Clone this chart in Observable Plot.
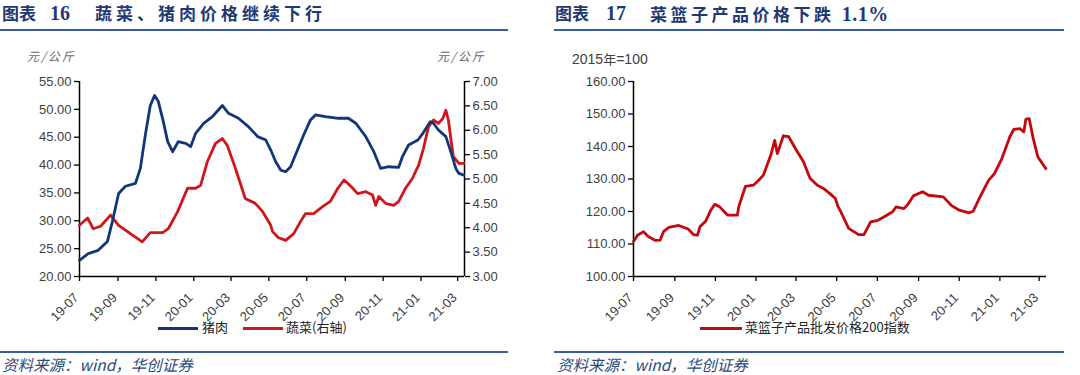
<!DOCTYPE html>
<html>
<head>
<meta charset="utf-8">
<script src="https://cdn.jsdelivr.net/npm/d3@7"></script>
<script src="https://cdn.jsdelivr.net/npm/@observablehq/plot@0.6"></script>
<style>
  html, body { margin: 0; padding: 0; background: #fff; }
  #page { position: relative; width: 1080px; height: 375px; overflow: hidden; background: #fff; font-family: "Liberation Sans", Arial, sans-serif; }
  .abs { position: absolute; white-space: nowrap; }
  .title { font-family: "Noto Sans CJK SC", sans-serif; font-weight: 700; color: #1f3a73; font-size: 17px; line-height: 1; }
  .rule { position: absolute; height: 2px; background: #3a5d9c; }
  .src { font-family: "Noto Sans CJK SC", serif; font-style: italic; color: #2d4a7a; font-size: 15.5px; line-height: 1; }
  .unit { font-family: "Noto Sans CJK SC", sans-serif; font-style: italic; color: #666; font-size: 12px; letter-spacing: 2px; line-height: 1; }
  .leg { font-family: "Noto Sans CJK SC", sans-serif; color: #222; font-size: 13px; line-height: 1; }
  .legline { position: absolute; height: 3px; }
  .chart { position: absolute; }
  .chart svg text { fill: #404040; }
</style>
</head>
<body>
<div id="page">
  <div class="abs title" style="left:2px;top:4px;">图表</div>
  <div class="abs title" style="left:50px;top:3px;font-family:'Liberation Serif',serif;font-size:20px;">16</div>
  <div class="abs title" style="left:95px;top:4px;letter-spacing:4px;">蔬菜、猪肉价格继续下行</div>
  <div class="rule" style="left:0;top:29px;width:508px;"></div>

  <div class="abs title" style="left:555px;top:4px;">图表</div>
  <div class="abs title" style="left:606px;top:3px;font-family:'Liberation Serif',serif;font-size:20px;">17</div>
  <div class="abs title" style="left:650px;top:4px;letter-spacing:3.5px;">菜篮子产品价格下跌 <span style="font-family:'Liberation Serif',serif;font-size:20px;letter-spacing:0.5px;">1.1%</span></div>
  <div class="rule" style="left:554px;top:29px;width:510px;"></div>

  <div class="abs unit" style="left:27px;top:50px;">元/公斤</div>
  <div class="abs unit" style="left:437px;top:50px;">元/公斤</div>
  <div class="abs" style="left:572px;top:49px;font-size:14px;color:#404040;font-family:'Liberation Sans',Arial,sans-serif;">2015<span style="font-family:'Noto Sans CJK SC';font-size:13px;">年</span>=100</div>

  <div id="left" class="chart" style="left:0;top:40px;"></div>
  <div id="right" class="chart" style="left:540px;top:40px;"></div>

  <div class="legline" style="left:158px;top:327px;width:40px;background:#13357a;"></div>
  <div class="abs leg" style="left:202px;top:320px;">猪肉</div>
  <div class="legline" style="left:243px;top:327px;width:40px;background:#d0161a;"></div>
  <div class="abs leg" style="left:286px;top:320px;">蔬菜(右轴)</div>

  <div class="legline" style="left:700px;top:327px;width:42px;background:#c4080c;"></div>
  <div class="abs leg" style="left:745px;top:320px;">菜篮子产品批发价格200指数</div>

  <div class="rule" style="left:0;top:351px;width:508px;"></div>
  <div class="abs src" style="left:2px;top:357px;">资料来源：wind，华创证券</div>
  <div class="rule" style="left:554px;top:351px;width:510px;"></div>
  <div class="abs src" style="left:557px;top:357px;">资料来源：wind，华创证券</div>
</div>
<script>
// ---------- data ----------
const xTickDates = ["2019-07-01","2019-09-01","2019-11-01","2020-01-01","2020-03-01","2020-05-01","2020-07-01","2020-09-01","2020-11-01","2021-01-01","2021-03-01"];
const xDomain = ["2019-07-01","2021-03-12"];

const porkDates = ["2019-07-01","2019-07-15","2019-07-31","2019-08-15","2019-08-23","2019-09-02","2019-09-13","2019-09-29","2019-10-07","2019-10-15","2019-10-23","2019-10-30","2019-11-05","2019-11-13","2019-11-20","2019-11-28","2019-12-07","2019-12-19","2019-12-27","2020-01-04","2020-01-17","2020-01-31","2020-02-16","2020-02-26","2020-03-13","2020-03-29","2020-04-13","2020-04-26","2020-05-04","2020-05-12","2020-05-20","2020-05-28","2020-06-05","2020-06-16","2020-06-26","2020-07-07","2020-07-15","2020-07-31","2020-08-21","2020-09-06","2020-09-18","2020-10-04","2020-10-17","2020-10-28","2020-11-10","2020-11-26","2020-12-02","2020-12-12","2020-12-27","2021-01-04","2021-01-16","2021-01-21","2021-01-29","2021-02-10","2021-02-18","2021-02-26","2021-03-03","2021-03-11"];
const porkPrices = [22.9,24.1,24.7,26.3,29.9,34.9,36.2,36.7,39.4,45.4,50.7,52.5,51.4,47.8,44.2,42.4,44.2,43.9,43.3,45.7,47.5,48.7,50.7,49.3,48.4,46.9,45.1,44.5,42.7,40.6,39.1,38.8,39.7,42.7,45.4,48.1,49.0,48.7,48.4,48.4,47.5,45.1,42.4,39.4,39.7,39.6,41.5,43.6,44.5,45.7,47.8,47.5,46.3,45.1,42.4,39.4,38.5,38.2];

const vegDates = ["2019-07-01","2019-07-14","2019-07-23","2019-08-04","2019-08-20","2019-09-02","2019-09-21","2019-10-10","2019-10-23","2019-11-12","2019-11-21","2019-12-06","2019-12-22","2020-01-04","2020-01-12","2020-01-23","2020-02-05","2020-02-16","2020-02-24","2020-03-08","2020-03-24","2020-04-09","2020-04-21","2020-05-04","2020-05-07","2020-05-16","2020-05-28","2020-06-10","2020-06-21","2020-06-29","2020-07-12","2020-07-27","2020-08-08","2020-08-20","2020-08-30","2020-09-10","2020-09-21","2020-10-04","2020-10-15","2020-10-20","2020-10-25","2020-11-05","2020-11-18","2020-11-26","2020-12-07","2020-12-18","2020-12-28","2021-01-05","2021-01-13","2021-01-21","2021-01-29","2021-02-05","2021-02-10","2021-02-14","2021-02-18","2021-02-22","2021-03-03","2021-03-11"];
const vegPrices = [4.05,4.20,3.98,4.03,4.26,4.05,3.88,3.71,3.90,3.90,3.98,4.33,4.81,4.81,4.87,5.36,5.73,5.83,5.69,5.22,4.60,4.50,4.33,4.05,3.92,3.80,3.74,3.88,4.13,4.29,4.29,4.44,4.54,4.81,4.98,4.85,4.70,4.74,4.67,4.46,4.64,4.50,4.46,4.54,4.81,5.01,5.28,5.63,6.07,6.21,6.14,6.24,6.41,6.21,5.83,5.46,5.32,5.32];

const basketDates = ["2019-07-01","2019-07-07","2019-07-16","2019-07-23","2019-08-03","2019-08-10","2019-08-15","2019-08-23","2019-09-07","2019-09-21","2019-09-29","2019-10-05","2019-10-09","2019-10-17","2019-10-25","2019-10-31","2019-11-07","2019-11-19","2019-12-04","2019-12-06","2019-12-16","2019-12-28","2020-01-05","2020-01-12","2020-01-23","2020-01-29","2020-02-02","2020-02-07","2020-02-11","2020-02-19","2020-02-29","2020-03-12","2020-03-22","2020-04-02","2020-04-11","2020-04-21","2020-04-29","2020-05-03","2020-05-07","2020-05-19","2020-06-03","2020-06-11","2020-06-21","2020-07-02","2020-07-14","2020-07-24","2020-07-29","2020-08-10","2020-08-16","2020-08-24","2020-09-07","2020-09-16","2020-10-08","2020-10-20","2020-11-01","2020-11-16","2020-11-22","2020-12-01","2020-12-15","2020-12-24","2021-01-04","2021-01-16","2021-01-22","2021-01-31","2021-02-06","2021-02-09","2021-02-14","2021-02-20","2021-02-27","2021-03-08","2021-03-11"];
const basketIndex = [110.8,112.7,113.8,112.3,111.1,111.2,113.8,115.1,115.7,114.6,112.9,112.7,115.4,116.9,120.4,122.2,121.5,118.9,118.9,121.5,127.7,128.1,129.6,131.2,137.3,141.9,137.8,140.9,143.3,143.0,139.4,135.4,130.2,128.1,127.1,125.5,124.0,121.5,120.0,114.8,112.9,112.9,116.8,117.3,118.7,119.9,121.4,120.9,122.2,124.8,126.1,125.0,124.5,121.9,120.4,119.6,120.1,124.0,129.6,131.7,136.3,143.0,145.3,145.5,144.5,148.4,148.6,142.5,136.8,134.1,133.2];

const leftTicks = [20,25,30,35,40,45,50,55];
const rightTicks = [3,3.5,4,4.5,5,5.5,6,6.5,7];
const basketTicks = [100,110,120,130,140,150,160];

// ---------- helpers ----------
const parse = d3.utcParse("%Y-%m-%d");
const fmtMonth = d3.utcFormat("%y-%m");
const toSeries = (dates, vals) => dates.map((d, i) => ({date: parse(d), value: vals[i]}));
const pork = toSeries(porkDates, porkPrices);
const veg = toSeries(vegDates, vegPrices);
const basket = toSeries(basketDates, basketIndex);
const xd = xDomain.map(parse);
const xt = xTickDates.map(parse);

// right axis (vegetables 3..7) mapped onto left scale (20..55)
const vegToLeft = v => 20 + (v - 3) * (55 - 20) / (7 - 3);
const leftToVeg = y => 3 + (y - 20) * (7 - 3) / (55 - 20);

const font = "'Liberation Sans', Arial, sans-serif";
const xAxisMarks = () => [
  Plot.axisX({ticks: xt, tickFormat: () => "", tickSize: 5, label: null, stroke: "#000", strokeWidth: 1.3}),
  Plot.axisX({ticks: xt, tickFormat: fmtMonth, tickRotate: -45, tickSize: 0, tickPadding: 19, dx: -3, label: null})
];

const left = Plot.plot({
  width: 527, height: 285,
  marginLeft: 79, marginRight: 63, marginTop: 41, marginBottom: 49,
  style: {fontFamily: font, fontSize: "13px", color: "#404040", background: "transparent"},
  x: {type: "utc", domain: xd},
  y: {domain: [20, 55]},
  marks: [
    Plot.axisY({ticks: leftTicks, tickFormat: d => d.toFixed(2), tickSize: 5, tickPadding: 3, label: null, stroke: "#000", strokeWidth: 1.3}),
    Plot.axisY({anchor: "right", ticks: rightTicks.map(vegToLeft), tickFormat: d => leftToVeg(d).toFixed(2), tickSize: 5, tickPadding: 3, label: null, stroke: "#000", strokeWidth: 1.3}),
    ...xAxisMarks(),
    Plot.ruleY([20], {stroke: "#000", strokeWidth: 1.5}),
    Plot.ruleX([xd[0], xd[1]], {stroke: "#000", strokeWidth: 1.5}),
    Plot.lineY(veg, {x: "date", y: d => vegToLeft(d.value), stroke: "#d0161a", strokeWidth: 2.8, curve: "linear"}),
    Plot.lineY(pork, {x: "date", y: "value", stroke: "#13357a", strokeWidth: 2.8, curve: "linear"})
  ]
});
document.getElementById("left").appendChild(left);

const right = Plot.plot({
  width: 540, height: 285,
  marginLeft: 93, marginRight: 34, marginTop: 41, marginBottom: 49,
  style: {fontFamily: font, fontSize: "13px", color: "#404040", background: "transparent"},
  x: {type: "utc", domain: xd},
  y: {domain: [100, 160]},
  marks: [
    Plot.axisY({ticks: basketTicks, tickFormat: d => d.toFixed(2), tickSize: 5, tickPadding: 3, label: null, stroke: "#000", strokeWidth: 1.3}),
    ...xAxisMarks(),
    Plot.ruleY([100], {stroke: "#000", strokeWidth: 1.5}),
    Plot.ruleX([xd[0]], {stroke: "#000", strokeWidth: 1.5}),
    Plot.lineY(basket, {x: "date", y: "value", stroke: "#c4080c", strokeWidth: 2.8, curve: "linear"})
  ]
});
document.getElementById("right").appendChild(right);
</script>
</body>
</html>
